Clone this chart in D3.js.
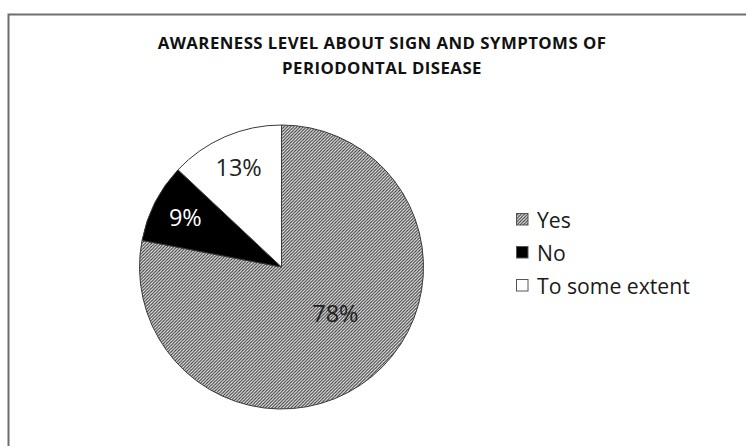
<!DOCTYPE html>
<html><head><meta charset="utf-8">
<script src="https://cdn.jsdelivr.net/npm/d3@7"></script>
<style>html,body{margin:0;padding:0;background:#fff;}svg{display:block;}</style>
</head><body>
<svg id="chart" width="746" height="446"></svg>
<script>
const categories = ["Yes", "No", "To some extent"];
const values = [78, 9, 13];
const valueLabels = ["78%", "9%", "13%"];
const titleLines = ["AWARENESS LEVEL ABOUT SIGN AND SYMPTOMS OF", "PERIODONTAL DISEASE"];

const svg = d3.select("#chart");
const font = "'Open Sans', 'Noto Sans', sans-serif";

// hatch pattern
const defs = svg.append("defs");
const pat = defs.append("pattern").attr("id", "hatch").attr("patternUnits", "userSpaceOnUse")
  .attr("width", 3.2).attr("height", 3.2);
pat.append("rect").attr("width", 3.2).attr("height", 3.2).attr("fill", "#eeeeee");
pat.append("path").attr("d", "M0,3.2 L3.2,0 M-1,1 L1,-1 M2.2,4.2 L4.2,2.2")
  .attr("stroke", "#3a3a3a").attr("stroke-width", 1.1);

// chart border (only left & top visible)
svg.append("path").attr("d", "M8.5,446 L8.5,14.5 L746,14.5")
  .attr("fill", "none").attr("stroke", "#6e6e6e").attr("stroke-width", 2);

// title
svg.append("g").selectAll("text").data(titleLines).join("text")
  .attr("x", 382).attr("y", (d, i) => 49 + i * 25)
  .attr("text-anchor", "middle").attr("font-family", font).attr("font-weight", "bold")
  .attr("font-size", 16.8).attr("letter-spacing", 0.45).attr("fill", "#111").text(d => d);

const fills = ["url(#hatch)", "#000", "#fff"];
const labelColors = ["#222", "#fff", "#222"];
const color = d3.scaleOrdinal().domain(categories).range(fills);

const cx = 281.5, cy = 267, R = 142;
const pie = d3.pie().sort(null).value(d => d.v);
const data = pie(categories.map((c, i) => ({c, v: values[i], l: valueLabels[i], i})));
const arc = d3.arc().innerRadius(0).outerRadius(R);
const g = svg.append("g").attr("transform", `translate(${cx},${cy})`);
g.selectAll("path").data(data).join("path")
  .attr("d", arc).attr("fill", d => color(d.data.c))
  .attr("stroke", "#3a3a3a").attr("stroke-width", 1);

g.selectAll("text").data(data).join("text")
  .attr("transform", d => {
    const big = d.data.v > 50;
    const lr = big ? 0.5 * R : 0.76 * R;
    const a = (d.startAngle + d.endAngle) / 2 - (big ? 0.17 : 0);
    return `translate(${Math.sin(a) * lr},${-Math.cos(a) * lr})`;
  })
  .attr("text-anchor", "middle").attr("dy", "0.36em")
  .attr("font-family", font).attr("font-size", 23.5)
  .attr("fill", d => labelColors[d.data.i]).text(d => d.data.l);

// legend
const lg = svg.append("g").attr("transform", "translate(516,213)");
const rows = lg.selectAll("g").data(categories).join("g")
  .attr("transform", (d, i) => `translate(0,${i * 33})`);
rows.append("rect").attr("x", 0.5).attr("y", 0.5).attr("width", 11.5).attr("height", 11.5)
  .attr("fill", d => color(d)).attr("stroke", "#555").attr("stroke-width", 1);
rows.append("text").attr("x", 21).attr("y", 14.6)
  .attr("font-family", font).attr("font-size", 21.2).attr("fill", "#1a1a1a").text(d => d);
</script>
</body></html>
